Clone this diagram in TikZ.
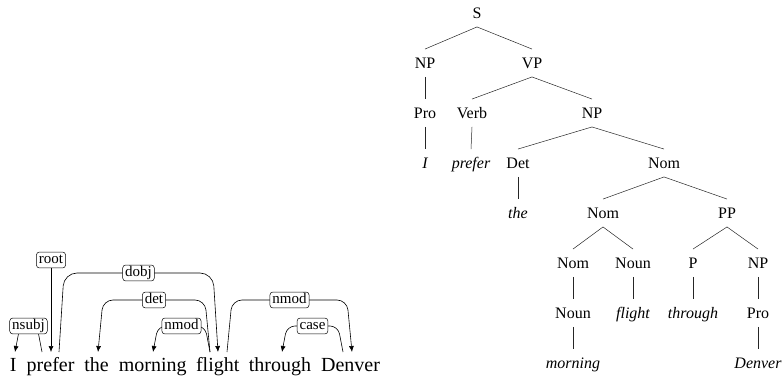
\documentclass[tikz,border=0pt]{standalone}
\usepackage{fontspec}
\setmainfont{Liberation Serif}
\usetikzlibrary{arrows.meta,calc}
\begin{document}
\begin{tikzpicture}[x=1pt,y=-1pt,
 word/.style={font=\fontsize{20}{24}\selectfont, anchor=base, inner sep=0pt},
 lab/.style={draw, rounded corners=3pt, fill=white, font=\fontsize{15}{18}\selectfont, inner xsep=2.5pt, inner ysep=1.2pt, text height=10.5pt, text depth=3pt, line width=0.5pt},
 arc/.style={line width=0.6pt, -{Latex[length=6pt,width=5pt]}},
 tn/.style={font=\fontsize{16}{19}\selectfont, inner xsep=1pt, inner ysep=0pt, text height=19.5pt, text depth=8pt},
 tl/.style={tn, font=\fontsize{16}{19}\selectfont\itshape},
 br/.style={line width=0.5pt, black!85}]
\useasboundingbox (0,0) rectangle (784,377);

% ---------- dependency sentence ----------
\node[word] (w1) at (13.3,371) {I};
\node[word] (w2) at (50.6,371) {prefer};
\node[word] (w3) at (96.6,371) {the};
\node[word] (w4) at (152.7,371) {morning};
\node[word] (w5) at (217.7,371) {flight};
\node[word] (w6) at (279.9,371) {through};
\node[word] (w7) at (350.5,371) {Denver};

\coordinate (nsubjH) at (42,352);  \coordinate (nsubjD) at (15,352);
\coordinate (rootD)  at (51,352);
\coordinate (dobjH)  at (59,352);  \coordinate (dobjD)  at (218,352);
\coordinate (detH)   at (210,352); \coordinate (detD)   at (98,352);
\coordinate (nmodAH) at (210,352); \coordinate (nmodAD) at (153,352);
\coordinate (nmodBH) at (227,352); \coordinate (nmodBD) at (352,352);
\coordinate (caseH)  at (343,352); \coordinate (caseD)  at (282,352);

\draw[arc, rounded corners=4pt]  (nsubjH) -- (37,326) -- (20,326) -- (nsubjD);
\draw[arc, rounded corners=13pt] (dobjH) -- (64,273) -- (213,273) -- (dobjD);
\draw[arc, rounded corners=10pt] (detH) -- (205,300) -- (103,300) -- (detD);
\draw[arc, rounded corners=8pt]  (nmodAH) -- (205,326) -- (158,326) -- (nmodAD);
\draw[arc, rounded corners=10pt] (nmodBH) -- (232,300) -- (347,300) -- (nmodBD);
\draw[arc, rounded corners=8pt]  (caseH) -- (338,326) -- (287,326) -- (caseD);

\node[lab] (Lnsubj) at (28.5,326) {nsubj};
\node[lab] (Lroot)  at (51,260) {root};
\node[lab] (Ldobj)  at (138.5,273) {dobj};
\node[lab] (Ldet)   at (154,300) {det};
\node[lab] (LnmodA) at (181.5,326) {nmod};
\node[lab] (LnmodB) at (289.5,300) {nmod};
\node[lab] (Lcase)  at (312.5,326) {case};
\draw[arc] (Lroot) -- (rootD);

% ---------- constituency tree ----------
\node[tn] (S)    at (477,13) {S};
\node[tn] (NP1)  at (425,63) {NP};
\node[tn] (VP)   at (532,63) {VP};
\node[tn] (Pro1) at (425,113) {Pro};
\node[tn] (Verb) at (472,113) {Verb};
\node[tn] (NP2)  at (592,113) {NP};
\node[tl] (tI)   at (425,163) {I};
\node[tl] (tprefer) at (471,163) {prefer};
\node[tn] (Det)  at (518,163) {Det};
\node[tn] (Nom1) at (664,163) {Nom};
\node[tl] (tthe) at (518,213) {the};
\node[tn] (Nom2) at (603,213) {Nom};
\node[tn] (PP)   at (727,213) {PP};
\node[tn] (Nom3) at (573,263) {Nom};
\node[tn] (Noun1) at (633,263) {Noun};
\node[tn] (P)    at (693,263) {P};
\node[tn] (NP3)  at (758,263) {NP};
\node[tn] (Noun2) at (573,313) {Noun};
\node[tl] (tflight) at (633,313) {flight};
\node[tl] (tthrough) at (693,313) {through};
\node[tn] (Pro2) at (758,313) {Pro};
\node[tl] (tmorning) at (573,363) {morning};
\node[tl] (tDenver) at (758,363) {Denver};

\foreach \a/\b in {S/NP1, S/VP, NP1/Pro1, Pro1/tI, VP/Verb, VP/NP2, Verb/tprefer,
  NP2/Det, NP2/Nom1, Det/tthe, Nom1/Nom2, Nom1/PP, Nom2/Nom3, Nom2/Noun1,
  Nom3/Noun2, Noun2/tmorning, Noun1/tflight, PP/P, PP/NP3, P/tthrough,
  NP3/Pro2, Pro2/tDenver}
  \draw[br] (\a.south) -- (\b.north);
\end{tikzpicture}
\end{document}
